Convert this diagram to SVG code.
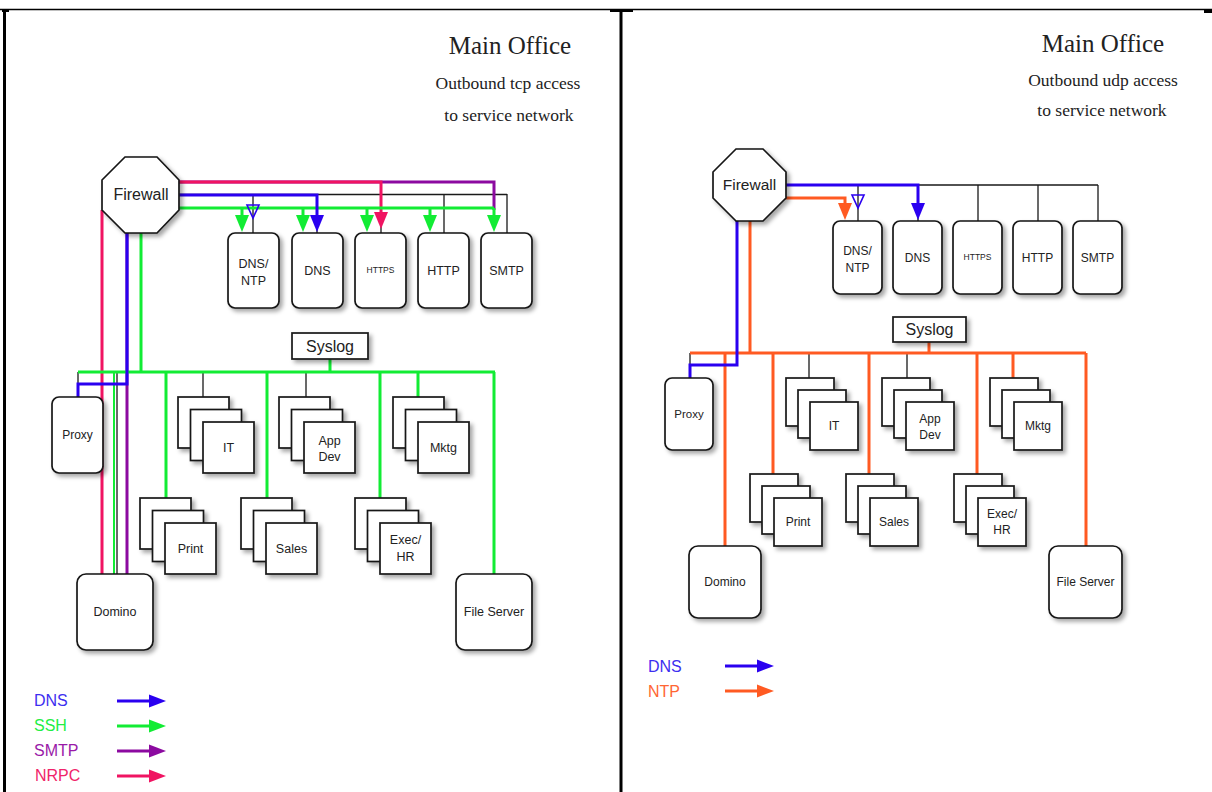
<svg xmlns="http://www.w3.org/2000/svg" xmlns:xlink="http://www.w3.org/1999/xlink" width="1212" height="792" viewBox="0 0 1212 792">
<style>
.box{fill:#fff;stroke:#151515;stroke-width:1.7;filter:url(#sh)}
.lbl{font-family:"Liberation Sans",Arial,sans-serif;fill:#222;text-anchor:middle}
.ttl{font-family:"Liberation Serif","DejaVu Serif",serif;fill:#222;text-anchor:middle}
.leg{font-family:"Liberation Sans",Arial,sans-serif;font-size:16px}
.k{stroke:#1a1a1a;stroke-width:1.3;fill:none}
.gl{stroke:#12ec34;stroke-width:3;fill:none}
.bl{stroke:#2a00f0;stroke-width:3;fill:none}
.pl{stroke:#8c0aa0;stroke-width:3;fill:none}
.rl{stroke:#f01462;stroke-width:3;fill:none}
.ol{stroke:#ff5a22;stroke-width:3;fill:none}
</style>
<defs>
<filter id="sh" x="-20%" y="-20%" width="150%" height="150%">
<feDropShadow dx="3" dy="3" stdDeviation="2" flood-color="#000" flood-opacity="0.35"/>
</filter>
<path id="ad" d="M-7,-17 L7,-17 L0,0 Z"/>
<path id="ar" d="M-17,-6.5 L-17,6.5 L0,0 Z"/>
</defs>
<rect width="1212" height="792" fill="#fff"/>
<g id="frame">
<line x1="0" y1="9.5" x2="1212" y2="9.5" stroke="#000" stroke-width="1.5"/>
<line x1="4.5" y1="9" x2="4.5" y2="792" stroke="#000" stroke-width="3"/>
<line x1="621" y1="9" x2="621" y2="792" stroke="#000" stroke-width="3"/>
<rect x="2" y="9" width="7" height="3" fill="#000"/>
<rect x="610" y="9" width="23" height="3" fill="#000"/>
<rect x="1204" y="9" width="8" height="4" fill="#000"/>
</g>
<g id="title-left">
<text class="ttl" x="510" y="54" font-size="25">Main Office</text>
<text class="ttl" x="508" y="89" font-size="17.5">Outbound tcp access</text>
<text class="ttl" x="509" y="121" font-size="17.5">to service network</text>
</g>
<g id="title-right">
<text class="ttl" x="1103" y="52" font-size="25">Main Office</text>
<text class="ttl" x="1103" y="86" font-size="17.5">Outbound udp access</text>
<text class="ttl" x="1102" y="116" font-size="17.5">to service network</text>
</g>
<g id="connectors">
<path class="k" d="M179,194.5 H507 M253,194 V233 M317,194 V233 M381,194 V233 M444,194 V233 M507,194 V233"/>
<path class="k" d="M78,372 H495 M78,372 V384 M117,372 V574 M203,372 V397 M306,372 V397"/>
<path class="pl" d="M179,182 H494 V210 M127,233 V574"/>
<path class="rl" d="M179,182 H381 V214 M102,210 V574"/>
<use xlink:href="#ad" x="381" y="229" fill="#f01462"/>
<path class="gl" d="M179,208 H494 M242,208 V218 M303,208 V218 M367,208 V218 M430,208 V218 M494,208 V218"/>
<path class="gl" d="M141,233 V372 M78,372 H495 M330,359 V372 M166,372 V498 M267,372 V498 M380,372 V498 M418,372 V397 M494,372 V574"/>
<path d="M114,372 V574" stroke="#12ec34" stroke-width="2" fill="none"/>
<use xlink:href="#ad" x="242" y="232" fill="#12ec34"/>
<use xlink:href="#ad" x="303" y="232" fill="#12ec34"/>
<use xlink:href="#ad" x="367" y="232" fill="#12ec34"/>
<use xlink:href="#ad" x="430" y="232" fill="#12ec34"/>
<use xlink:href="#ad" x="494" y="232" fill="#12ec34"/>
<path class="bl" d="M179,195 H317 V218 M127,233 V384 H78 V397"/>
<use xlink:href="#ad" x="317" y="232" fill="#2a00f0"/>
<path d="M247,205 L259,205 L253,218 Z" fill="none" stroke="#2a00f0" stroke-width="1.6"/>
<path class="k" d="M786,185 H1098 M858,185 V221 M918,185 V221 M978,185 V221 M1038,185 V221 M1098,185 V221"/>
<path class="k" d="M690,353 V365 M809,353 V378 M907,353 V378"/>
<path class="ol" d="M784,198 H845 V206 M750,221 V353 M690,353 H1086 M929,342 V353 M725,353 V546 M773,353 V474 M869,353 V474 M977,353 V474 M1013,353 V378 M1086,353 V546"/>
<use xlink:href="#ad" x="845" y="220" fill="#ff5a22"/>
<path class="bl" d="M786,185 H918 V206 M737,221 V365 H690 V378"/>
<use xlink:href="#ad" x="918" y="220" fill="#2a00f0"/>
<path d="M852,195 L864,195 L858,208 Z" fill="none" stroke="#2a00f0" stroke-width="1.6"/>
</g>
<g id="firewall-l">
<polygon class="box" points="125,157 157,157 179,180 179,210 157,233 125,233 102,210 102,180"/>
<text class="lbl" x="141" y="200" font-size="16">Firewall</text>
</g>
<g id="dnsntp-l"><rect class="box" x="228" y="233" width="51" height="75" rx="7"/>
<text class="lbl" x="253.5" y="268" font-size="12.5">DNS/</text><text class="lbl" x="253.5" y="285" font-size="12.5">NTP</text></g>
<g id="dns-l"><rect class="box" x="292" y="233" width="51" height="75" rx="7"/>
<text class="lbl" x="317.5" y="275" font-size="12.5">DNS</text></g>
<g id="https-l"><rect class="box" x="355" y="233" width="51" height="75" rx="7"/>
<text class="lbl" x="380.5" y="273" font-size="8.5">HTTPS</text></g>
<g id="http-l"><rect class="box" x="418" y="233" width="51" height="75" rx="7"/>
<text class="lbl" x="443.5" y="275" font-size="12.5">HTTP</text></g>
<g id="smtp-l"><rect class="box" x="481" y="233" width="51" height="75" rx="7"/>
<text class="lbl" x="506.5" y="275" font-size="12.5">SMTP</text></g>
<g id="syslog-l"><rect class="box" x="292" y="333" width="76" height="26"/>
<text class="lbl" x="330" y="352" font-size="16">Syslog</text></g>
<g id="proxy-l"><rect class="box" x="52" y="397" width="51" height="76" rx="7"/>
<text class="lbl" x="77.5" y="439" font-size="12">Proxy</text></g>
<g id="it-l">
<rect class="box" x="178" y="397" width="51" height="51"/><rect class="box" x="190.5" y="409.5" width="51" height="51"/><rect class="box" x="203" y="422" width="51" height="51"/>
<text class="lbl" x="228.5" y="452" font-size="12.5">IT</text></g>
<g id="appdev-l">
<rect class="box" x="279" y="397" width="51" height="51"/><rect class="box" x="291.5" y="409.5" width="51" height="51"/><rect class="box" x="304" y="422" width="51" height="51"/>
<text class="lbl" x="329.5" y="445" font-size="12.5">App</text><text class="lbl" x="329.5" y="461" font-size="12.5">Dev</text></g>
<g id="mktg-l">
<rect class="box" x="393" y="397" width="51" height="51"/><rect class="box" x="405.5" y="409.5" width="51" height="51"/><rect class="box" x="418" y="422" width="51" height="51"/>
<text class="lbl" x="443.5" y="452" font-size="12.5">Mktg</text></g>
<g id="print-l">
<rect class="box" x="140" y="498" width="51" height="51"/><rect class="box" x="152.5" y="510.5" width="51" height="51"/><rect class="box" x="165" y="523" width="51" height="51"/>
<text class="lbl" x="190.5" y="553" font-size="12.5">Print</text></g>
<g id="sales-l">
<rect class="box" x="241" y="498" width="51" height="51"/><rect class="box" x="253.5" y="510.5" width="51" height="51"/><rect class="box" x="266" y="523" width="51" height="51"/>
<text class="lbl" x="291.5" y="553" font-size="12.5">Sales</text></g>
<g id="exechr-l">
<rect class="box" x="355" y="498" width="51" height="51"/><rect class="box" x="367.5" y="510.5" width="51" height="51"/><rect class="box" x="380" y="523" width="51" height="51"/>
<text class="lbl" x="405.5" y="544" font-size="12.5">Exec/</text><text class="lbl" x="405.5" y="561" font-size="12.5">HR</text></g>
<g id="domino-l"><rect class="box" x="77" y="574" width="76" height="76" rx="9"/>
<text class="lbl" x="115" y="616" font-size="12.5">Domino</text></g>
<g id="fileserver-l"><rect class="box" x="456" y="574" width="76" height="76" rx="9"/>
<text class="lbl" x="494" y="616" font-size="12.5">File Server</text></g>
<g id="legend-l">
<text class="leg" x="34" y="706" fill="#3d2ef0">DNS</text>
<text class="leg" x="34" y="731" fill="#22ee44">SSH</text>
<text class="leg" x="34" y="756" fill="#9a1aa8">SMTP</text>
<text class="leg" x="35" y="781" fill="#f0246a">NRPC</text>
<path class="bl" d="M117,701 H152"/><use xlink:href="#ar" x="166" y="701" fill="#2a00f0"/>
<path class="gl" d="M117,726 H152"/><use xlink:href="#ar" x="166" y="726" fill="#12ec34"/>
<path class="pl" d="M117,751 H152"/><use xlink:href="#ar" x="166" y="751" fill="#8c0aa0"/>
<path class="rl" d="M117,776 H152"/><use xlink:href="#ar" x="166" y="776" fill="#f01462"/>
</g>
<g id="firewall-r">
<polygon class="box" points="736,149 763,149 786,172 786,198 763,221 736,221 713,198 713,172"/>
<text class="lbl" x="749.5" y="190" font-size="15.5">Firewall</text>
</g>
<g id="dnsntp-r"><rect class="box" x="833" y="221" width="49" height="73" rx="7"/>
<text class="lbl" x="857.5" y="255" font-size="12">DNS/</text><text class="lbl" x="857.5" y="272" font-size="12">NTP</text></g>
<g id="dns-r"><rect class="box" x="893" y="221" width="49" height="73" rx="7"/>
<text class="lbl" x="917.5" y="262" font-size="12">DNS</text></g>
<g id="https-r"><rect class="box" x="953" y="221" width="49" height="73" rx="7"/>
<text class="lbl" x="977.5" y="260" font-size="8.5">HTTPS</text></g>
<g id="http-r"><rect class="box" x="1013" y="221" width="49" height="73" rx="7"/>
<text class="lbl" x="1037.5" y="262" font-size="12">HTTP</text></g>
<g id="smtp-r"><rect class="box" x="1073" y="221" width="49" height="73" rx="7"/>
<text class="lbl" x="1097.5" y="262" font-size="12">SMTP</text></g>
<g id="syslog-r"><rect class="box" x="893" y="317" width="73" height="25"/>
<text class="lbl" x="929.5" y="335" font-size="16">Syslog</text></g>
<g id="proxy-r"><rect class="box" x="665" y="378" width="48" height="72" rx="7"/>
<text class="lbl" x="689" y="418" font-size="11.5">Proxy</text></g>
<g id="it-r">
<rect class="box" x="786" y="378" width="48" height="48"/><rect class="box" x="798" y="390" width="48" height="48"/><rect class="box" x="810" y="402" width="48" height="48"/>
<text class="lbl" x="834" y="430" font-size="12">IT</text></g>
<g id="appdev-r">
<rect class="box" x="882" y="378" width="48" height="48"/><rect class="box" x="894" y="390" width="48" height="48"/><rect class="box" x="906" y="402" width="48" height="48"/>
<text class="lbl" x="930" y="423" font-size="12">App</text><text class="lbl" x="930" y="439" font-size="12">Dev</text></g>
<g id="mktg-r">
<rect class="box" x="990" y="378" width="48" height="48"/><rect class="box" x="1002" y="390" width="48" height="48"/><rect class="box" x="1014" y="402" width="48" height="48"/>
<text class="lbl" x="1038" y="430" font-size="12">Mktg</text></g>
<g id="print-r">
<rect class="box" x="750" y="474" width="48" height="48"/><rect class="box" x="762" y="486" width="48" height="48"/><rect class="box" x="774" y="498" width="48" height="48"/>
<text class="lbl" x="798" y="526" font-size="12">Print</text></g>
<g id="sales-r">
<rect class="box" x="846" y="474" width="48" height="48"/><rect class="box" x="858" y="486" width="48" height="48"/><rect class="box" x="870" y="498" width="48" height="48"/>
<text class="lbl" x="894" y="526" font-size="12">Sales</text></g>
<g id="exechr-r">
<rect class="box" x="954" y="474" width="48" height="48"/><rect class="box" x="966" y="486" width="48" height="48"/><rect class="box" x="978" y="498" width="48" height="48"/>
<text class="lbl" x="1002" y="518" font-size="12">Exec/</text><text class="lbl" x="1002" y="534" font-size="12">HR</text></g>
<g id="domino-r"><rect class="box" x="689" y="546" width="72" height="72" rx="9"/>
<text class="lbl" x="725" y="586" font-size="12">Domino</text></g>
<g id="fileserver-r"><rect class="box" x="1049" y="546" width="73" height="72" rx="9"/>
<text class="lbl" x="1085.5" y="586" font-size="12">File Server</text></g>
<g id="legend-r">
<text class="leg" x="648" y="672" fill="#3d2ef0">DNS</text>
<text class="leg" x="648" y="697" fill="#ff6633">NTP</text>
<path class="bl" d="M725,666 H760"/><use xlink:href="#ar" x="774" y="666" fill="#2a00f0"/>
<path class="ol" d="M725,691 H760"/><use xlink:href="#ar" x="774" y="691" fill="#ff5a22"/>
</g>
</svg>
